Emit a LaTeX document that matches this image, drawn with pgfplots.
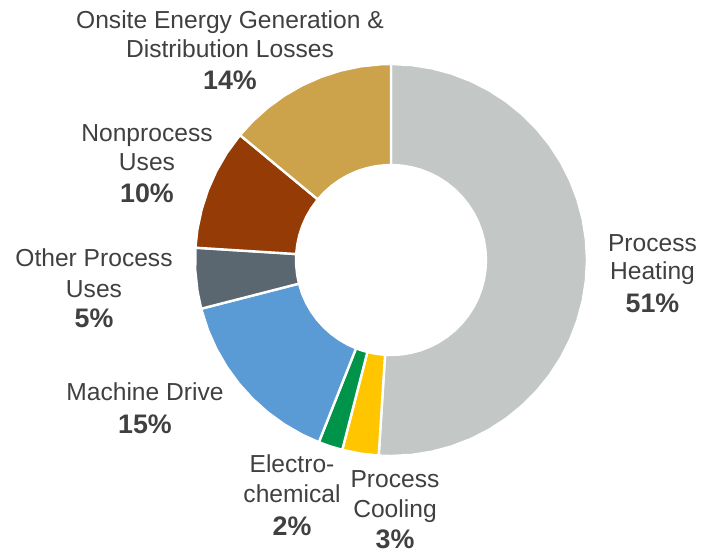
\documentclass[border=0pt]{standalone}
\usepackage{pgfplots}
\pgfplotsset{compat=1.18}
\usepackage{fontspec}
\setmainfont{Liberation Sans}
\definecolor{cHeat}{HTML}{C3C7C6}
\definecolor{cCool}{HTML}{FFC600}
\definecolor{cElec}{HTML}{00944A}
\definecolor{cMach}{HTML}{5B9BD5}
\definecolor{cOther}{HTML}{5B6770}
\definecolor{cNon}{HTML}{953B06}
\definecolor{cOnsite}{HTML}{CCA24A}
\definecolor{cText}{HTML}{404040}
\tikzset{lbl/.style={anchor=base, text=cText, font=\fontsize{12.3}{15}\selectfont},
         pct/.style={anchor=base, text=cText, font=\fontsize{13.4}{15}\selectfont\bfseries}}
% Shares (%): Process Heating 51, Process Cooling 3, Electrochemical 2,
% Machine Drive 15, Other Process Uses 5, Nonprocess Uses 10,
% Onsite Energy Generation & Distribution Losses 14  (1% = 3.6 degrees)
\begin{document}
\begin{tikzpicture}
\begin{axis}[
  scale only axis, width=350.5pt, height=276pt,
  xmin=-391, xmax=310, ymin=-292, ymax=260,
  hide axis, clip=false,
  every axis plot/.append style={data cs=polar, no markers, draw=white, line width=1.2pt, line join=round},
]
% Process Heating 51%
\addplot[fill=cHeat] coordinates {
(90,196) (84,196) (78,196) (72,196) (66,196) (60,196) (54,196) (48,196) (42,196) (36,196)
(30,196) (24,196) (18,196) (12,196) (6,196) (0,196) (-6,196) (-12,196) (-18,196) (-24,196)
(-30,196) (-36,196) (-42,196) (-48,196) (-54,196) (-60,196) (-66,196) (-72,196) (-78,196) (-84,196)
(-90,196) (-93.6,196)
(-93.6,95) (-90,95) (-84,95) (-78,95) (-72,95) (-66,95) (-60,95) (-54,95) (-48,95) (-42,95)
(-36,95) (-30,95) (-24,95) (-18,95) (-12,95) (-6,95) (0,95) (6,95) (12,95) (18,95)
(24,95) (30,95) (36,95) (42,95) (48,95) (54,95) (60,95) (66,95) (72,95) (78,95)
(84,95) (90,95)
} -- cycle;
% Process Cooling 3%
\addplot[fill=cCool] coordinates {
(-93.6,196) (-99,196) (-104.4,196)
(-104.4,95) (-99,95) (-93.6,95)
} -- cycle;
% Electrochemical 2%
\addplot[fill=cElec] coordinates {
(-104.4,196) (-108,196) (-111.6,196)
(-111.6,95) (-108,95) (-104.4,95)
} -- cycle;
% Machine Drive 15%
\addplot[fill=cMach] coordinates {
(-111.6,196) (-117,196) (-123,196) (-129,196) (-135,196) (-141,196) (-147,196) (-153,196) (-159,196) (-165.6,196)
(-165.6,95) (-159,95) (-153,95) (-147,95) (-141,95) (-135,95) (-129,95) (-123,95) (-117,95) (-111.6,95)
} -- cycle;
% Other Process Uses 5%
\addplot[fill=cOther] coordinates {
(-165.6,196) (-171,196) (-177,196) (-183.6,196)
(-183.6,95) (-177,95) (-171,95) (-165.6,95)
} -- cycle;
% Nonprocess Uses 10%
\addplot[fill=cNon] coordinates {
(-183.6,196) (-189,196) (-195,196) (-201,196) (-207,196) (-213,196) (-219.6,196)
(-219.6,95) (-213,95) (-207,95) (-201,95) (-195,95) (-189,95) (-183.6,95)
} -- cycle;
% Onsite Energy Generation & Distribution Losses 14%
\addplot[fill=cOnsite] coordinates {
(-219.6,196) (-225,196) (-231,196) (-237,196) (-243,196) (-249,196) (-255,196) (-261,196) (-267,196) (-270,196)
(-270,95) (-267,95) (-261,95) (-255,95) (-249,95) (-243,95) (-237,95) (-231,95) (-225,95) (-219.6,95)
} -- cycle;

% Labels
\node[lbl] at (axis cs:-161,231) {Onsite Energy Generation \&};
\node[lbl] at (axis cs:-161,202) {Distribution Losses};
\node[pct] at (axis cs:-161,170) {14\%};

\node[lbl] at (axis cs:-244,118) {Nonprocess};
\node[lbl] at (axis cs:-244,89) {Uses};
\node[pct] at (axis cs:-244,57) {10\%};

\node[lbl] at (axis cs:-297,-7) {Other Process};
\node[lbl] at (axis cs:-297,-37) {Uses};
\node[pct] at (axis cs:-297,-68) {5\%};

\node[lbl] at (axis cs:-246,-140) {Machine Drive};
\node[pct] at (axis cs:-246,-173) {15\%};

\node[lbl] at (axis cs:-99,-212) {Electro-};
\node[lbl] at (axis cs:-99,-242) {chemical};
\node[pct] at (axis cs:-99,-275) {2\%};

\node[lbl] at (axis cs:4,-227) {Process};
\node[lbl] at (axis cs:4,-257) {Cooling};
\node[pct] at (axis cs:4,-288) {3\%};

\node[lbl] at (axis cs:261.5,8) {Process};
\node[lbl] at (axis cs:261.5,-20) {Heating};
\node[pct] at (axis cs:261.5,-52) {51\%};
\end{axis}
\pgfresetboundingbox
\path[use as bounding box] (current axis.south west) rectangle (current axis.north east);
\end{tikzpicture}
\end{document}
